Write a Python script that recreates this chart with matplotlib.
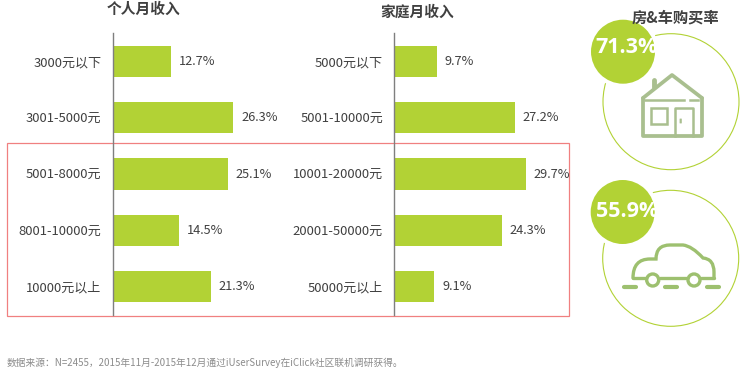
import matplotlib
matplotlib.use('Agg')
import matplotlib.pyplot as plt
from matplotlib.patches import Circle, Rectangle, FancyBboxPatch, PathPatch
from matplotlib.path import Path

plt.rcParams['font.family'] = ['Noto Sans CJK SC', 'DejaVu Sans']

# 数据
personal_labels = ['3000元以下', '3001-5000元', '5001-8000元', '8001-10000元', '10000元以上']
personal_values = [12.7, 26.3, 25.1, 14.5, 21.3]
family_labels = ['5000元以下', '5001-10000元', '10001-20000元', '20001-50000元', '50000元以上']
family_values = [9.7, 27.2, 29.7, 24.3, 9.1]
house_rate = '71.3%'
car_rate = '55.9%'
source_text = '数据来源：N=2455，2015年11月-2015年12月通过iUserSurvey在iClick社区联机调研获得。'

W, H = 745, 373
lime = '#b2d235'
text_color = '#404040'
icon_house = '#a9bf8f'
icon_car = '#9dc06f'

fig = plt.figure(figsize=(W / 100, H / 100), dpi=100)

# 像素坐标的底层，画框和图标
bg = fig.add_axes([0, 0, 1, 1])
bg.set_xlim(0, W)
bg.set_ylim(H, 0)
bg.axis('off')


def bar_panel(left, px_per_unit, labels, values, pad):
    width = 170
    ax = fig.add_axes([left / W, 1 - 315 / H, width / W, 282 / H])
    ax.patch.set_alpha(0)
    ax.barh(range(len(values)), values, height=0.55, color=lime)
    ax.set_ylim(4.5, -0.5)
    ax.set_xlim(0, width / px_per_unit)
    ax.set_xticks([])
    ax.set_yticks(range(len(labels)))
    ax.set_yticklabels(labels, fontsize=9.4, color=text_color)
    ax.tick_params(axis='y', length=0, pad=pad)
    for s in ['top', 'right', 'bottom']:
        ax.spines[s].set_visible(False)
    ax.spines['left'].set_color('#7f7f7f')
    ax.spines['left'].set_linewidth(1)
    for i, v in enumerate(values):
        ax.annotate(f'{v}%', (v, i), xytext=(5.5, 0), textcoords='offset points',
                    va='center', ha='left', fontsize=9.2, color=text_color)
    return ax


ax1 = bar_panel(113, 4.58, personal_labels, personal_values, 8.5)
ax2 = bar_panel(394, 4.44, family_labels, family_values, 8)

# 红框
bg.add_patch(Rectangle((7, 142.5), 562, 173.5, fill=False, ec='#f08080', lw=0.9))

# 标题
bg.text(143.5, 9, '个人月收入', ha='center', va='center', fontsize=10.6, fontweight='bold', color=text_color)
bg.text(417.5, 12, '家庭月收入', ha='center', va='center', fontsize=10.6, fontweight='bold', color=text_color)
bg.text(675, 17, '房&车购买率', ha='center', va='center', fontsize=11, fontweight='bold', color=text_color, zorder=6)


def badge(cx, cy, fx, fy, label, text_y):
    bg.add_patch(Circle((cx, cy), 68, fill=False, ec=lime, lw=0.8))
    bg.add_patch(Circle((fx, fy), 36, fc='white', ec='none', zorder=3))
    bg.add_patch(Circle((fx, fy), 32, fc=lime, ec='none', zorder=4))
    bg.text(fx + 4, text_y, label, ha='center', va='center', fontsize=15.5,
            fontweight='bold', color='white', zorder=5, family='Open Sans')


badge(671, 101.7, 623, 51.7, house_rate, 47.5)
badge(670.7, 258.3, 622.7, 212, car_rate, 211.5)

# 房子图标
lw_icon = 2.7
line_kw = dict(color=icon_house, lw=lw_icon, solid_capstyle='round', solid_joinstyle='round')
bg.plot([643, 672, 702], [98, 75, 98], **line_kw)
bg.plot([654, 654], [80, 87], color=icon_house, lw=3.5, solid_capstyle='round')
bg.plot([643, 643, 702, 702], [98, 136, 136, 98], **line_kw)
bg.plot([645, 684], [100, 100], color=icon_house, lw=1.8)
bg.plot([690, 698], [100, 100], color=icon_house, lw=1.8)
bg.add_patch(Rectangle((651, 108), 15.5, 15.5, fill=False, ec=icon_house, lw=1.8))
bg.plot([674.5, 674.5, 693, 693], [136, 108, 108, 136], color=icon_house, lw=1.8)
bg.add_patch(FancyBboxPatch((680, 119), 1.4, 4, boxstyle='round,pad=0.4', fc=icon_house, ec='none'))

# 汽车图标
car_kw = dict(color=icon_car, lw=2.4, solid_capstyle='round', solid_joinstyle='round')
car_verts = [(633, 278), (633, 259), (650, 259), (656, 259), (656, 245), (670, 245),
             (683, 245), (692, 246), (703, 258), (714, 259), (714, 272), (714, 278)]
car_codes = [Path.MOVETO, Path.CURVE3, Path.CURVE3, Path.LINETO, Path.CURVE3, Path.CURVE3,
             Path.LINETO, Path.CURVE3, Path.CURVE3, Path.CURVE3, Path.CURVE3, Path.LINETO]
bg.add_patch(PathPatch(Path(car_verts, car_codes), fill=False, ec=icon_car, lw=2.4, capstyle='round'))
bg.plot([633, 646], [278, 278], **car_kw)
bg.plot([660, 687], [278, 278], **car_kw)
bg.plot([701, 714], [278, 278], **car_kw)
for wx in [652.7, 694]:
    bg.add_patch(Circle((wx, 280), 6, fc='white', ec=icon_car, lw=2.4))
for x0, x1 in [(624, 636), (665, 677), (707, 719)]:
    bg.plot([x0, x1], [286.5, 286.5], color=icon_car, lw=3, solid_capstyle='round')

# 数据来源
bg.text(7, 363, source_text, ha='left', va='center', fontsize=7, color='#8c8c8c')

fig.savefig('out.png', dpi=100)
